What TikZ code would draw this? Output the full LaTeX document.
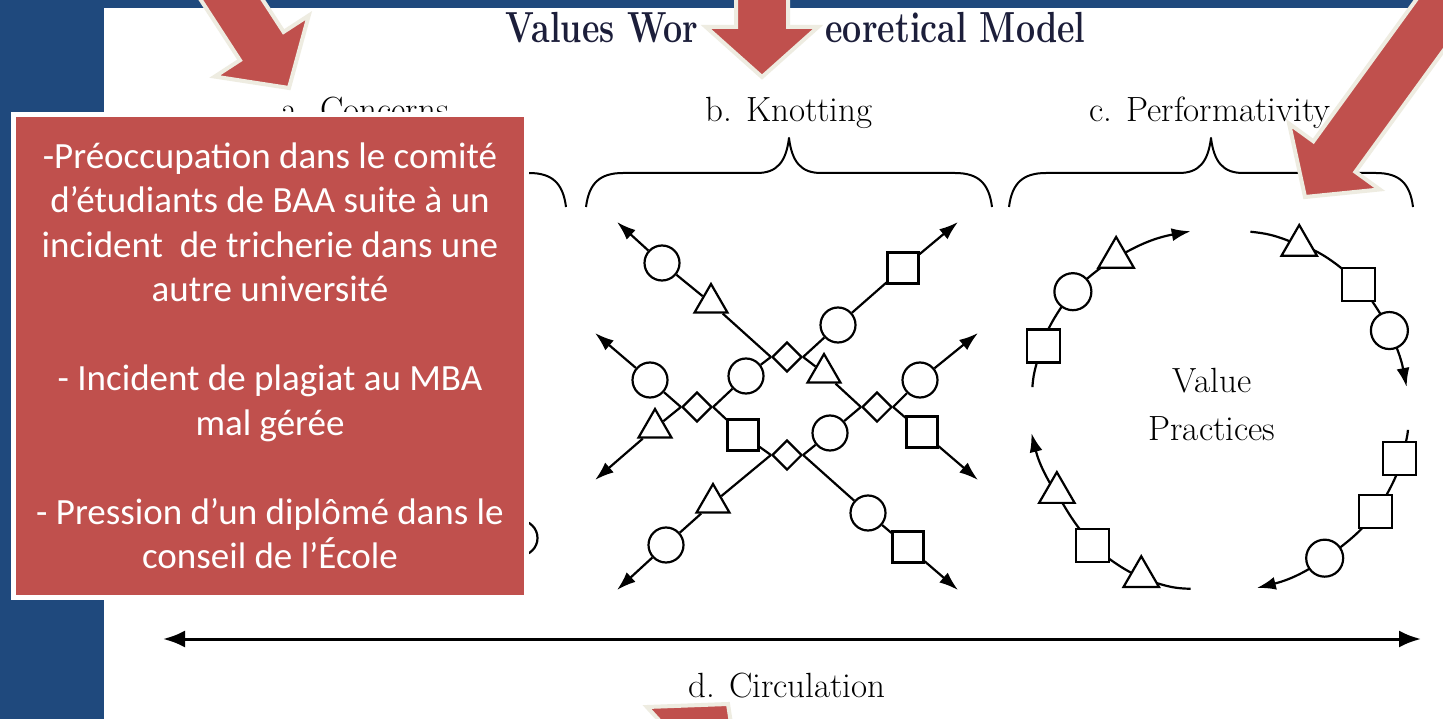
\documentclass[tikz,border=0pt]{standalone}
\usepackage{fontspec}
\usepackage{graphicx}
\usepackage{tikz}
\usetikzlibrary{shapes.geometric,arrows.meta,positioning,backgrounds}
\newfontfamily\boxfont{Carlito}

\definecolor{slideblue}{RGB}{31,73,125}
\definecolor{calloutred}{RGB}{192,80,77}
\definecolor{callcream}{RGB}{238,236,225}
\definecolor{titleink}{RGB}{28,30,58}

% curly brace over a part, from x=#1 to x=#2
\newcommand{\topbrace}[2]{%
  \draw[line width=2pt, line join=round]
    (#1,-207) .. controls ({#1+3},-183) and ({#1+14},-173) .. ({#1+37},-173)
    -- ({(#1+#2)/2-32},-173) .. controls ({(#1+#2)/2-12},-173) and ({(#1+#2)/2-3},-162) .. ({(#1+#2)/2},-138)
    .. controls ({(#1+#2)/2+3},-162) and ({(#1+#2)/2+12},-173) .. ({(#1+#2)/2+32},-173)
    -- ({#2-37},-173) .. controls ({#2-14},-173) and ({#2-3},-183) .. (#2,-207);}

% big red pointer: tip x, tip y, direction
\newcommand{\fatarrow}[3]{%
  \draw[pointer, shift={(#1,#2)}, rotate=#3]
    (0,0) -- (-50,56) -- (-50,26) -- (-420,26) -- (-420,-26) -- (-50,-26) -- (-50,-56) -- cycle;}

\begin{document}
\begin{tikzpicture}[
            x=1pt, y=1pt,
            ln/.style={line width=2.2pt},
            tipped/.style={ln, -{Latex[length=19pt,width=13pt]}},
            circ/.style={circle, draw, ln, fill=white, minimum size=35pt, inner sep=0pt},
            sq/.style={rectangle, draw, ln, fill=white, minimum size=31pt, inner sep=0pt},
            tri/.style={regular polygon, regular polygon sides=3, draw, ln, fill=white, minimum size=38pt, inner sep=0pt},
            knot/.style={diamond, draw, ln, fill=white, minimum size=30pt, inner sep=0pt},
            pcirc/.style={circ, minimum size=37pt},
            psq/.style={sq, minimum size=33pt},
            ptri/.style={tri, minimum size=41pt},
            partlabel/.style={font=\fontsize{35}{42}\selectfont, anchor=base},
            titlepart/.style={text=titleink, font=\bfseries\fontsize{34}{34}\selectfont},
            pointer/.style={fill=calloutred, draw=callcream, line width=4pt},
            notebox/.style={rectangle, fill=calloutred, draw=white, line width=5pt, minimum width=513pt, minimum height=483pt, inner sep=0pt, text=white, align=center, font=\boxfont\fontsize{37}{44.5}\selectfont}
        ]
            \useasboundingbox (0,0) rectangle (1443,-719);
            \begin{pgfonlayer}{background}
                \fill[slideblue] (0,0) rectangle (1443,-719);
                \fill[white] (103.5,-8.5) rectangle (1443,-719);
            \end{pgfonlayer}
            \clip (0,0) rectangle (1443,-719);

            % title and part names
            \node[titlepart, anchor=base east] (title1) at (702,-43) {\scalebox{1}[1.28]{Values Wor}};
            \node[titlepart, anchor=base west] (title2) at (822,-43) {\scalebox{1}[1.28]{eoretical Model}};
            \node[partlabel] (concerns) at (365,-122) {a. Concerns};
            \node[partlabel] (knotting) at (789,-122) {b. Knotting};
            \node[partlabel] (perform) at (1210,-122) {c. Performativity};
            \node[partlabel] (circul) at (787,-697) {d. Circulation};

            \topbrace{159}{566}
            \topbrace{586}{992}
            \topbrace{1009}{1413}

            % knotting
            \node[knot] (k1) at (787,-357) {};
            \node[knot] (k2) at (697,-407) {};
            \node[knot] (k3) at (877,-407) {};
            \node[knot] (k4) at (787,-455) {};
            \node[circ] (c1) at (662,-263) {};
            \node[tri] (t1) at (711,-303) {};
            \node[circ] (c2) at (838,-325) {};
            \node[sq] (s1) at (903,-268) {};
            \node[circ] (c3) at (746,-376) {};
            \node[circ] (c4) at (650,-380) {};
            \node[tri] (t2) at (655,-428) {};
            \node[sq] (s2) at (743,-435) {};
            \node[tri] (t3) at (713,-503) {};
            \node[circ] (c5) at (666,-545) {};
            \node[circ] (c6) at (868,-513) {};
            \node[sq] (s3) at (908,-547) {};
            \node[circ] (c7) at (830,-433) {};
            \node[tri] (t4) at (824,-373) {};
            \node[circ] (c8) at (920,-380) {};
            \node[sq] (s4) at (922,-432) {};
            \coordinate (eTL) at (617,-222);
            \coordinate (eTR) at (958,-222);
            \coordinate (eL1) at (595,-333);
            \coordinate (eL2) at (595,-480);
            \coordinate (eR1) at (978,-333);
            \coordinate (eR2) at (978,-480);
            \coordinate (eBL) at (617,-590);
            \coordinate (eBR) at (958,-590);

            \draw[tipped] (k1.west) -- (t1) -- (c1) -- (eTL);
            \draw[tipped] (k1.east) -- (c2) -- (s1) -- (eTR);
            \draw[ln] (k1.west) -- (c3) -- (k2.east);
            \draw[ln] (k1.east) -- (t4) -- (k3.west);
            \draw[tipped] (k2.west) -- (c4) -- (eL1);
            \draw[tipped] (k2.west) -- (t2) -- (eL2);
            \draw[ln] (k2.east) -- (s2) -- (k4.west);
            \draw[tipped] (k4.west) -- (t3) -- (c5) -- (eBL);
            \draw[tipped] (k4.east) -- (c6) -- (s3) -- (eBR);
            \draw[ln] (k4.east) -- (c7) -- (k3.west);
            \draw[tipped] (k3.east) -- (c8) -- (eR1);
            \draw[tipped] (k3.east) -- (s4) -- (eR2);

            % performativity
            \coordinate (pc) at (1219,-410);
            \node[font=\fontsize{35}{48}\selectfont, align=center] (vp) at (1212,-404) {Value\\Practices};

            \coordinate (p1s) at ([shift={(173:188)}]pc);
            \node[psq] (p1a) at ([shift={(160:187)}]pc) {};
            \node[pcirc] (p1b) at ([shift={(141:188)}]pc) {};
            \node[ptri] (p1c) at ([shift={(124:184)}]pc) {};
            \coordinate (p1e) at ([shift={(99:181)}]pc);

            \coordinate (p2s) at ([shift={(80:181)}]pc);
            \node[ptri] (p2a) at ([shift={(64:183)}]pc) {};
            \node[psq] (p2b) at ([shift={(42:188)}]pc) {};
            \node[pcirc] (p2c) at ([shift={(25:188)}]pc) {};
            \coordinate (p2e) at ([shift={(7:189)}]pc);

            \coordinate (p3s) at ([shift={(-6:190)}]pc);
            \node[psq] (p3a) at ([shift={(-15:187)}]pc) {};
            \node[psq] (p3b) at ([shift={(-33:187)}]pc) {};
            \node[pcirc] (p3c) at ([shift={(-54.5:182)}]pc) {};
            \coordinate (p3e) at ([shift={(-78:182)}]pc);

            \coordinate (p4s) at ([shift={(-99:181)}]pc);
            \node[ptri] (p4a) at ([shift={(-115:184)}]pc) {};
            \node[psq] (p4b) at ([shift={(-133:185)}]pc) {};
            \node[ptri] (p4c) at ([shift={(-153:182)}]pc) {};
            \coordinate (p4e) at ([shift={(-173:189)}]pc);

            % arcs go under the beads
            \begin{pgfonlayer}{background}
                \draw[tipped] (p1s) to[bend left=6] (p1a) to[bend left=10] (p1b) to[bend left=8] (p1c) to[bend left=12] (p1e);
                \draw[tipped] (p2s) to[bend left=8] (p2a) to[bend left=11] (p2b) to[bend left=9] (p2c) to[bend left=9] (p2e);
                \draw[tipped] (p3s) to[bend left=4] (p3a) to[bend left=9] (p3b) to[bend left=11] (p3c) to[bend left=12] (p3e);
                \draw[tipped] (p4s) to[bend left=8] (p4a) to[bend left=9] (p4b) to[bend left=10] (p4c) to[bend left=10] (p4e);
            \end{pgfonlayer}

            % circulation
            \coordinate (cl) at (163,-639);
            \coordinate (cr) at (1421,-639);
            \draw[line width=3pt, {Latex[length=22pt,width=17pt]}-{Latex[length=22pt,width=17pt]}] (cl) -- (cr);

            % concerns, mostly under the note
            \node[circ] (acirc) at (520,-538) {};
            \node[notebox] (concern) at (270,-356) {-Préoccupation dans le comité\\
                d’étudiants de BAA suite à un\\
                incident~ de tricherie dans une\\
                autre université\\[44.5pt]
                - Incident de plagiat au MBA\\
                mal gérée\\[44.5pt]
                - Pression d’un diplômé dans le\\
                conseil de l’École};

            % pointers
            \fatarrow{289}{-88}{-57}
            \fatarrow{762}{-77}{-90}
            \fatarrow{1305}{-197}{234}
            \draw[pointer] (647,-707) -- (728,-704) -- (732,-730) -- (668,-730) -- cycle;
        \end{tikzpicture}
\end{document}
